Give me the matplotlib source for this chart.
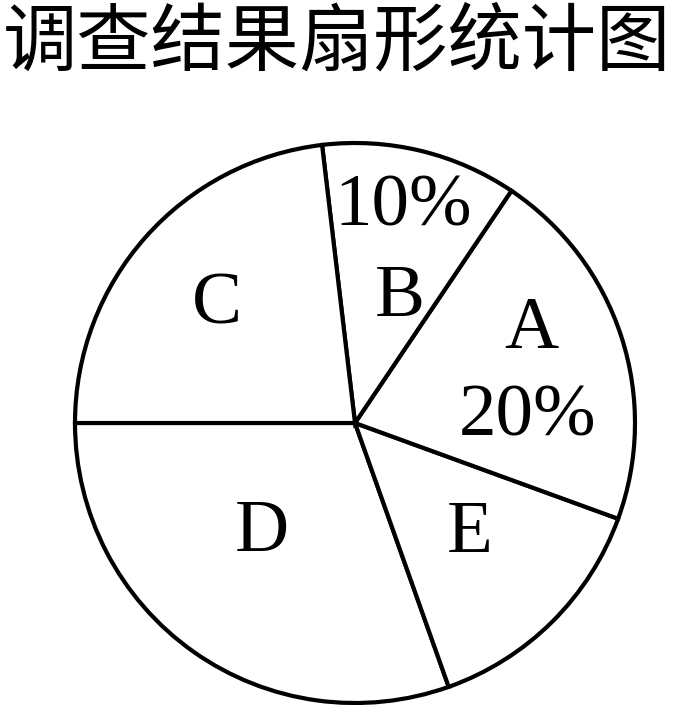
import matplotlib
matplotlib.use("Agg")
import matplotlib.pyplot as plt

title = "调查结果扇形统计图"
categories = ["D", "E", "A", "B", "C"]
shares = [30.4, 14.0, 21.1, 11.3, 23.1]
pct_labels = {"A": "20%", "B": "10%"}

W, H = 675, 705
fig = plt.figure(figsize=(W / 100, H / 100), dpi=100)
ax = fig.add_axes([0, 0, 1, 1])

cx, cy, R = 355, H - 423, 280
wedges, _ = ax.pie(shares, startangle=180, counterclock=True, center=(cx, cy), radius=R,
                   colors=["white"] * len(shares),
                   wedgeprops=dict(edgecolor="black", linewidth=3.0, joinstyle="miter"))
ax.set_aspect("auto")
ax.set_xlim(0, W)
ax.set_ylim(0, H)
ax.axis("off")

serif = ["Liberation Serif", "DejaVu Serif"]
fs = 54
letter_pos = {"A": (531, 330), "B": (400, 298), "C": (217, 306), "D": (262, 533), "E": (470, 534)}
pct_pos = {"A": (528, 418), "B": (403, 208)}
for c in categories:
    x, y = letter_pos[c]
    ax.text(x, H - y, c, ha="center", va="center", fontsize=fs, family=serif)
    if c in pct_labels:
        x, y = pct_pos[c]
        ax.text(x, H - y, pct_labels[c], ha="center", va="center", fontsize=fs, family=serif)

fig.text(337 / W, 1 - 43 / H, title, ha="center", va="center", fontsize=53.5,
         family=["Noto Sans CJK SC", "DejaVu Sans"], fontweight="light")

fig.savefig("out.png", dpi=100, facecolor="white")
